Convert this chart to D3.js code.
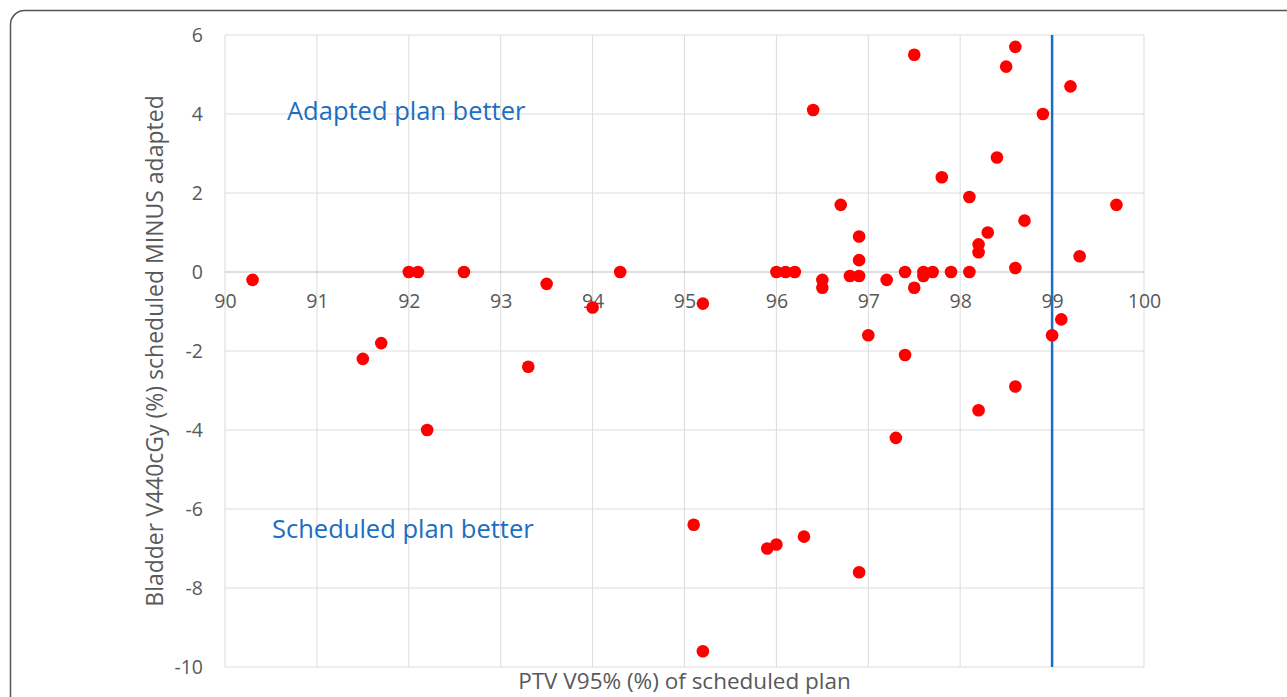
<!DOCTYPE html>
<html>
<head>
<meta charset="utf-8">
<script src="https://cdn.jsdelivr.net/npm/d3@7"></script>
<style>
  body { margin: 0; background: #fff; }
  svg { display: block; font-family: "Open Sans", sans-serif; }
</style>
</head>
<body>
<div id="chart"></div>
<script>
// PTV V95% (%) of scheduled plan
const ptvV95 = [
  90.3, 92.0, 92.1, 92.6, 93.5, 94.3, 94.0, 91.5, 91.7, 93.3, 92.2,
  95.2, 95.1, 95.2, 95.9, 96.0, 96.3, 96.9,
  96.4, 97.5, 98.6, 98.5, 99.2, 98.9, 98.4, 97.8, 98.1, 96.7, 99.7, 98.7,
  98.3, 96.9, 98.2, 98.2, 99.3, 96.9, 98.6,
  96.0, 96.1, 96.2, 96.5, 96.5, 96.8, 96.9, 97.2, 97.4, 97.5, 97.6, 97.6,
  97.7, 97.9, 98.1,
  97.0, 99.1, 99.0, 97.4, 98.6, 98.2, 97.3
];
// Bladder V440cGy (%) scheduled MINUS adapted
const bladderDiff = [
  -0.2, 0, 0, 0, -0.3, 0, -0.9, -2.2, -1.8, -2.4, -4.0,
  -0.8, -6.4, -9.6, -7.0, -6.9, -6.7, -7.6,
  4.1, 5.5, 5.7, 5.2, 4.7, 4.0, 2.9, 2.4, 1.9, 1.7, 1.7, 1.3,
  1.0, 0.9, 0.7, 0.5, 0.4, 0.3, 0.1,
  0, 0, 0, -0.2, -0.4, -0.1, -0.1, -0.2, 0, -0.4, 0, -0.1,
  0, 0, 0,
  -1.6, -1.2, -1.6, -2.1, -2.9, -3.5, -4.2
];
const xTicks = [90, 91, 92, 93, 94, 95, 96, 97, 98, 99, 100];
const yTicks = [-10, -8, -6, -4, -2, 0, 2, 4, 6];
const thresholdX = 99;

const points = ptvV95.map((v, i) => ({x: v, y: bladderDiff[i]}));

const W = 1287, H = 697;
const margin = {top: 35, right: 143, bottom: 30, left: 225};

const svg = d3.select("#chart").append("svg")
  .attr("width", W)
  .attr("height", H);

// outer frame
svg.append("rect")
  .attr("x", 10.5).attr("y", 10.5)
  .attr("width", W + 40).attr("height", H + 40)
  .attr("rx", 14)
  .attr("fill", "none")
  .attr("stroke", "#555")
  .attr("stroke-width", 1.5);

const x = d3.scaleLinear().domain([90, 100]).range([margin.left, W - margin.right]);
const y = d3.scaleLinear().domain([-10, 6]).range([667, margin.top]);

//gridlines
svg.append("g")
  .selectAll("line.vg")
  .data(xTicks)
  .join("line")
    .attr("x1", d => x(d)).attr("x2", d => x(d))
    .attr("y1", y(6)).attr("y2", y(-10))
    .attr("stroke", "#dcdcdc")
    .attr("stroke-width", 1);

svg.append("g")
  .selectAll("line.hg")
  .data(yTicks.filter(d => d !== 0))
  .join("line")
    .attr("x1", x(90)).attr("x2", x(100))
    .attr("y1", d => y(d)).attr("y2", d => y(d))
    .attr("stroke", "#dcdcdc")
    .attr("stroke-width", 1);

// zero axis line
svg.append("line")
  .attr("x1", x(90)).attr("x2", x(100))
  .attr("y1", y(0)).attr("y2", y(0))
  .attr("stroke", "#bfbfbf")
  .attr("stroke-width", 1.2);

// Y axis labels (plain hyphen for negatives)
const yAxis = d3.axisLeft(y).tickValues(yTicks).tickSize(0).tickPadding(22)
  .tickFormat(d => String(d));
svg.append("g")
  .attr("transform", `translate(${x(90)},0)`)
  .call(yAxis)
  .call(g => g.select(".domain").remove())
  .selectAll("text")
    .style("font-size", "19.5px")
    .style("font-family", "Open Sans")
    .attr("fill", "#595959");

// X axis labels sit below the zero line
const xAxis = d3.axisBottom(x).tickValues(xTicks).tickSize(0).tickPadding(22)
  .tickFormat(d => String(d));
svg.append("g")
  .attr("transform", `translate(0,${y(0)})`)
  .call(xAxis)
  .call(g => g.select(".domain").remove())
  .selectAll("text")
    .style("font-size", "19.5px")
    .style("font-family", "Open Sans")
    .attr("fill", "#595959");

// threshold line
svg.append("line")
  .attr("x1", x(thresholdX)).attr("x2", x(thresholdX))
  .attr("y1", y(6)).attr("y2", y(-10))
  .attr("stroke", "#1b6ec2")
  .attr("stroke-width", 2.5);

// points
svg.append("g")
  .selectAll("circle")
  .data(points)
  .join("circle")
    .attr("cx", d => x(d.x))
    .attr("cy", d => y(d.y))
    .attr("r", 6.3)
    .attr("fill", "#ff0000");

// annotations
svg.append("text")
  .attr("x", 287).attr("y", 120)
  .attr("fill", "#1b6ec2")
  .style("font-size", "25.5px")
  .text("Adapted plan better");

svg.append("text")
  .attr("x", 272).attr("y", 538)
  .attr("fill", "#1b6ec2")
  .style("font-size", "25.5px")
  .text("Scheduled plan better");

// axis titles
svg.append("text")
  .attr("x", (x(90) + x(100)) / 2)
  .attr("y", 689)
  .attr("text-anchor", "middle")
  .attr("fill", "#595959")
  .style("font-size", "22.5px")
  .text("PTV V95% (%) of scheduled plan");

svg.append("text")
  .attr("transform", `translate(163,${(y(6) + y(-10)) / 2}) rotate(-90)`)
  .attr("text-anchor", "middle")
  .attr("fill", "#595959")
  .style("font-size", "23px")
  .text("Bladder V440cGy (%) scheduled MINUS adapted");
</script>
</body>
</html>
